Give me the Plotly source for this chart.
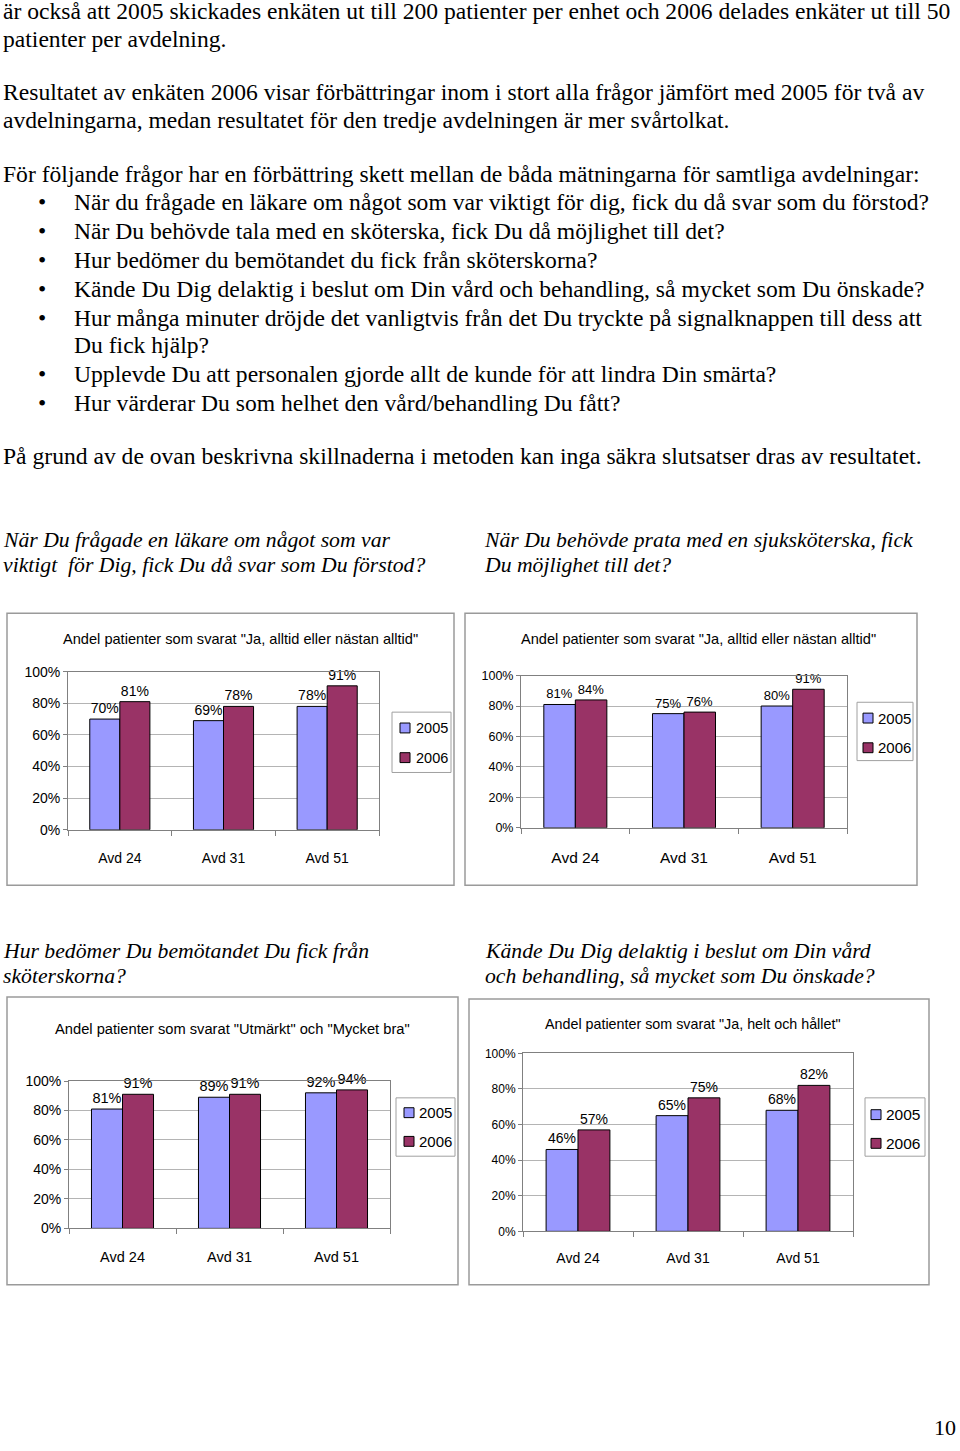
import plotly.graph_objects as go

W, H = 960, 1451

# ---------------- data ----------------
categories = ["Avd 24", "Avd 31", "Avd 51"]
series_names = ["2005", "2006"]

c1_2005 = [70, 69, 78]
c1_2006 = [81, 78, 91]
c2_2005 = [81, 75, 80]
c2_2006 = [84, 76, 91]
c3_2005 = [81, 89, 92]
c3_2006 = [91, 91, 94]
c4_2005 = [46, 65, 68]
c4_2006 = [57, 75, 82]

y_ticks = [0, 20, 40, 60, 80, 100]
y_ticklabels = ["0%", "20%", "40%", "60%", "80%", "100%"]

chart_titles = [
    'Andel patienter som svarat "Ja, alltid eller nästan alltid"',
    'Andel patienter som svarat "Ja, alltid eller nästan alltid"',
    'Andel patienter som svarat "Utmärkt" och "Mycket bra"',
    'Andel patienter som svarat "Ja, helt och hållet"',
]

body_lines = [
    "är också att 2005 skickades enkäten ut till 200 patienter per enhet och 2006 delades enkäter ut till 50",
    "patienter per avdelning.",
    "Resultatet av enkäten 2006 visar förbättringar inom i stort alla frågor jämfört med 2005 för två av",
    "avdelningarna, medan resultatet för den tredje avdelningen är mer svårtolkat.",
    "För följande frågor har en förbättring skett mellan de båda mätningarna för samtliga avdelningar:",
]
bullet_lines = [
    ("När du frågade en läkare om något som var viktigt för dig, fick du då svar som du förstod?", True),
    ("När Du behövde tala med en sköterska, fick Du då möjlighet till det?", True),
    ("Hur bedömer du bemötandet du fick från sköterskorna?", True),
    ("Kände Du Dig delaktig i beslut om Din vård och behandling, så mycket som Du önskade?", True),
    ("Hur många minuter dröjde det vanligtvis från det Du tryckte på signalknappen till dess att", True),
    ("Du fick hjälp?", False),
    ("Upplevde Du att personalen gjorde allt de kunde för att lindra Din smärta?", True),
    ("Hur värderar Du som helhet den vård/behandling Du fått?", True),
]
closing_line = "På grund av de ovan beskrivna skillnaderna i metoden kan inga säkra slutsatser dras av resultatet."

headings = [
    ["När Du frågade en läkare om något som var", "viktigt  för Dig, fick Du då svar som Du förstod?"],
    ["När Du behövde prata med en sjuksköterska, fick", "Du möjlighet till det?"],
    ["Hur bedömer Du bemötandet Du fick från", "sköterskorna?"],
    ["Kände Du Dig delaktig i beslut om Din vård", "och behandling, så mycket som Du önskade?"],
]
page_number = "10"

# ---------------- layout helpers ----------------
def px(x):
    return x / W

def py(y):
    return 1 - y / H

SERIF = "Liberation Serif, Times New Roman, serif"
SANS = "Liberation Sans, Arial, sans-serif"
C2005 = "#9999FF"
C2006 = "#993366"
colors = [C2005, C2006]

charts = [
    dict(d05=c1_2005, d06=c1_2006, plot=(68, 379, 671, 831), box=(7, 454, 612, 887),
         title=(240, 638), leg=dict(box=(392, 451, 712, 773), sq=400, tx=414, rows=(728, 758)),
         yfs=14, xfs=14, lfs=14, tfs=14.6, gfs=14.5, so=15),
    dict(d05=c2_2005, d06=c2_2006, plot=(521, 847, 675, 829), box=(465, 917, 612, 887),
         title=(698, 638), leg=dict(box=(857, 913, 702, 761), sq=863, tx=876, rows=(718, 748)),
         yfs=12.5, xfs=15.5, lfs=13, tfs=14.6, gfs=15, so=16),
    dict(d05=c3_2005, d06=c3_2006, plot=(69, 390, 1085, 1234), box=(7, 458, 1000, 1291),
         title=(232, 1032), leg=dict(box=(396, 455, 1102, 1161), sq=404, tx=417, rows=(1117, 1146)),
         yfs=14, xfs=14.5, lfs=14.5, tfs=14.7, gfs=15, so=15),
    dict(d05=c4_2005, d06=c4_2006, plot=(523, 853, 1057, 1237), box=(469, 929, 1002, 1291),
         title=(692, 1027), leg=dict(box=(865, 925, 1102, 1161), sq=871, tx=884, rows=(1119, 1148)),
         yfs=12, xfs=14, lfs=14, tfs=14.3, gfs=15.5, so=14),
]

fig = go.Figure()
annotations = []
shapes = []
layout_extra = {}

for i, ch in enumerate(charts, start=1):
    sfx = "" if i == 1 else str(i)
    xa, ya = "x" + sfx, "y" + sfx
    for name, vals, col in zip(series_names, (ch["d05"], ch["d06"]), colors):
        fig.add_trace(go.Bar(
            x=categories, y=vals, name=name, xaxis=xa, yaxis=ya,
            marker=dict(color=col, line=dict(color="#000000", width=1)),
            text=[f"{v}%" for v in vals], textposition="outside",
            textfont=dict(family=SANS, size=ch["lfs"], color="#000000"),
            constraintext="none", cliponaxis=False, showlegend=False,
        ))
    x0, x1, y0, y1 = ch["plot"]
    layout_extra["xaxis" + sfx] = dict(
        domain=[px(x0), px(x1)], anchor=ya, type="category",
        showline=True, linecolor="#808080", linewidth=1, mirror=True,
        ticks="outside", tickson="boundaries", ticklen=5, tickcolor="#808080",
        showgrid=False, tickfont=dict(family=SANS, size=ch["xfs"], color="#000"),
        fixedrange=True, ticklabelstandoff=ch["so"],
    )
    layout_extra["yaxis" + sfx] = dict(
        domain=[py(y1), py(y0)], anchor=xa, range=[0, 100],
        tickmode="array", tickvals=y_ticks, ticktext=y_ticklabels,
        showline=True, linecolor="#808080", linewidth=1, mirror=True,
        showgrid=True, gridcolor="#b4b4b4", gridwidth=1, zeroline=False,
        ticks="outside", ticklen=4, tickcolor="#808080",
        tickfont=dict(family=SANS, size=ch["yfs"], color="#000"),
        fixedrange=True,
    )
    # chart frame
    bx0, bx1, by0, by1 = ch["box"]
    shapes.append(dict(type="rect", xref="paper", yref="paper",
                       x0=px(bx0), x1=px(bx1), y0=py(by1), y1=py(by0),
                       line=dict(color="#9a9a9a", width=1.5), fillcolor="rgba(0,0,0,0)"))
    # chart title
    tx, ty = ch["title"]
    annotations.append(dict(text=chart_titles[i - 1], x=px(tx), y=py(ty), xref="paper", yref="paper",
                            xanchor="center", yanchor="middle", showarrow=False,
                            font=dict(family=SANS, size=ch["tfs"], color="#000")))
    # legend box
    lg = ch["leg"]
    lx0, lx1, ly0, ly1 = lg["box"]
    shapes.append(dict(type="rect", xref="paper", yref="paper",
                       x0=px(lx0), x1=px(lx1), y0=py(ly1), y1=py(ly0),
                       line=dict(color="#a0a0a0", width=1), fillcolor="#ffffff"))
    for name, col, ry in zip(series_names, colors, lg["rows"]):
        shapes.append(dict(type="rect", xref="paper", yref="paper",
                           x0=px(lg["sq"]), x1=px(lg["sq"] + 10), y0=py(ry + 5), y1=py(ry - 5),
                           line=dict(color="#000000", width=1), fillcolor=col))
        annotations.append(dict(text=name, x=px(lg["tx"]), y=py(ry), xref="paper", yref="paper",
                                xanchor="left", yanchor="middle", showarrow=False,
                                font=dict(family=SANS, size=ch["gfs"], color="#000")))

# body text
BODY_FS = 23.6
DY = 7  # visual centre correction
body_y = [10, 38, 92, 120, 175]
for t, yy in zip(body_lines, body_y):
    annotations.append(dict(text=t, x=px(1), y=py(yy - DY), xref="paper", yref="paper",
                            xanchor="left", yanchor="middle", showarrow=False,
                            font=dict(family=SERIF, size=BODY_FS, color="#000")))
bul_y = [203, 232, 262, 291, 320, 348, 377, 406]
for (t, has_b), yy in zip(bullet_lines, bul_y):
    annotations.append(dict(text=t, x=px(72), y=py(yy - DY), xref="paper", yref="paper",
                            xanchor="left", yanchor="middle", showarrow=False,
                            font=dict(family=SERIF, size=BODY_FS, color="#000")))
    if has_b:
        annotations.append(dict(text="•", x=px(42), y=py(yy - DY), xref="paper", yref="paper",
                                xanchor="center", yanchor="middle", showarrow=False,
                                font=dict(family=SERIF, size=BODY_FS, color="#000")))
annotations.append(dict(text=closing_line, x=px(1), y=py(460 - DY), xref="paper", yref="paper",
                        xanchor="left", yanchor="middle", showarrow=False,
                        font=dict(family=SERIF, size=BODY_FS, color="#000")))

head_pos = [(1, 541), (482, 541), (1, 957), (483, 957)]
for (hx, hy), lines in zip(head_pos, headings):
    for k, t in enumerate(lines):
        annotations.append(dict(text=f"<i>{t}</i>", x=px(hx), y=py(hy + 25 * k - 3), xref="paper", yref="paper",
                                xanchor="left", yanchor="middle", showarrow=False,
                                font=dict(family=SERIF, size=21.7, color="#000")))

annotations.append(dict(text=page_number, x=px(945), y=py(1441 - 6), xref="paper", yref="paper",
                        xanchor="center", yanchor="middle", showarrow=False,
                        font=dict(family=SERIF, size=22, color="#000")))

fig.update_layout(
    width=W, height=H, margin=dict(l=0, r=0, t=0, b=0),
    paper_bgcolor="#ffffff", plot_bgcolor="#ffffff",
    barmode="group", bargap=0.42, bargroupgap=0,
    annotations=annotations, shapes=shapes, showlegend=False,
    **layout_extra,
)

fig.write_html("out.html", config={"displayModeBar": False},
               post_script="document.body.style.margin='0';document.body.style.padding='0';")
